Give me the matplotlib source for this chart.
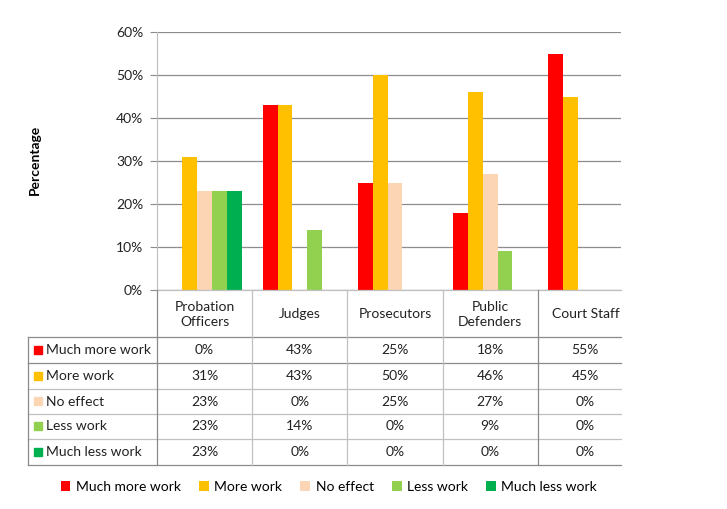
import numpy as np
import matplotlib
matplotlib.use("Agg")
import matplotlib.pyplot as plt
from matplotlib.patches import Rectangle

plt.rcParams['font.family'] = ['Lato', 'DejaVu Sans']

# dados
grupos = ["Probation\nOfficers", "Judges", "Prosecutors", "Public\nDefenders", "Court Staff"]
respostas = ["Much more work", "More work", "No effect", "Less work", "Much less work"]
much_more = [0, 43, 25, 18, 55]
more = [31, 43, 50, 46, 45]
no_effect = [23, 0, 25, 27, 0]
less = [23, 14, 0, 9, 0]
much_less = [23, 0, 0, 0, 0]
valores = [much_more, more, no_effect, less, much_less]
cores = ["#FF0000", "#FFC000", "#FCD5B5", "#92D050", "#00B050"]
yticks = [0, 10, 20, 30, 40, 50, 60]

W, H = 727, 509
fig = plt.figure(figsize=(W / 100, H / 100), dpi=100)

# area do grafico (pixels da imagem); a ultima categoria fica cortada na direita
px_l, px_r, px_t, px_b = 157, 621, 32, 290
cat_w = 95.2
ax = fig.add_axes([px_l / W, 1 - px_b / H, (px_r - px_l) / W, (px_b - px_t) / H])

n = len(grupos)
x = np.arange(n)
largura = 0.156
handles = []
for i, serie in enumerate(valores):
    b = ax.bar(x + (i - 2) * largura, serie, largura, color=cores[i], label=respostas[i], zorder=3)
    handles.append(b)

ax.set_xlim(-0.5, (px_r - px_l) / cat_w - 0.5)
ax.set_ylim(0, 60)
ax.set_yticks(yticks)
ax.set_yticklabels([f"{v}%" for v in yticks], fontsize=10, color="#222222")
ax.set_xticks([])
ax.yaxis.grid(True, color="#8C8C8C", linewidth=0.9, zorder=0)
for s in ["top", "right", "bottom"]:
    ax.spines[s].set_visible(False)
ax.spines["left"].set_color("#BDBDBD")
ax.tick_params(axis="y", length=5, color="#8C8C8C", pad=5)

fig.text(35 / W, 1 - 160 / H, "Percentage", rotation=90, fontsize=10, fontweight="bold",
         ha="center", va="center")

# tabela de dados desenhada por cima
ov = fig.add_axes([0, 0, 1, 1])
ov.set_xlim(0, W)
ov.set_ylim(H, 0)
ov.axis("off")

tab_l = 28
bordas_y = [290, 337, 363, 389, 414, 439, 465]
cols = [px_l + k * cat_w for k in range(n)]
centros = [px_l + (k + 0.5) * cat_w for k in range(n)]
claro = "#C0C0C0"
escuro = "#8A8A8A"

# linhas horizontais
ov.plot([px_l, px_r], [bordas_y[0], bordas_y[0]], color=claro, lw=0.9)
for k, yy in enumerate(bordas_y[1:]):
    c = escuro if k in (0, 1, len(bordas_y) - 2) else claro
    ov.plot([tab_l, px_r], [yy, yy], color=c, lw=0.9)
# linhas verticais
ov.plot([tab_l, tab_l], [bordas_y[1], bordas_y[-1]], color=escuro, lw=0.9)
for j, xx in enumerate(cols):
    c = escuro if j in (0, 4) else claro
    ov.plot([xx, xx], [bordas_y[0], bordas_y[-1]], color=c, lw=0.9)

# cabecalho
for j, g in enumerate(grupos):
    ov.text(centros[j], (bordas_y[0] + bordas_y[1]) / 2 + 1, g, ha="center", va="center",
            fontsize=10, color="#222222", linespacing=1.35)

# linhas de valores
for i, serie in enumerate(valores):
    yc = (bordas_y[i + 1] + bordas_y[i + 2]) / 2
    ov.add_patch(Rectangle((34, yc - 4.5), 8, 8, color=cores[i]))
    ov.text(46, yc, respostas[i], ha="left", va="center", fontsize=10, color="#222222")
    for j, v in enumerate(serie):
        ov.text(centros[j], yc, f"{v}%", ha="center", va="center", fontsize=10, color="#222222")

# legenda
fig.legend(handles=handles, labels=respostas, loc="center", ncol=5,
           bbox_to_anchor=(329 / W, 1 - 487 / H), frameon=False, fontsize=10,
           handlelength=0.7, handleheight=0.7, handletextpad=0.4, columnspacing=1.3)

fig.savefig("out.png", dpi=100)
